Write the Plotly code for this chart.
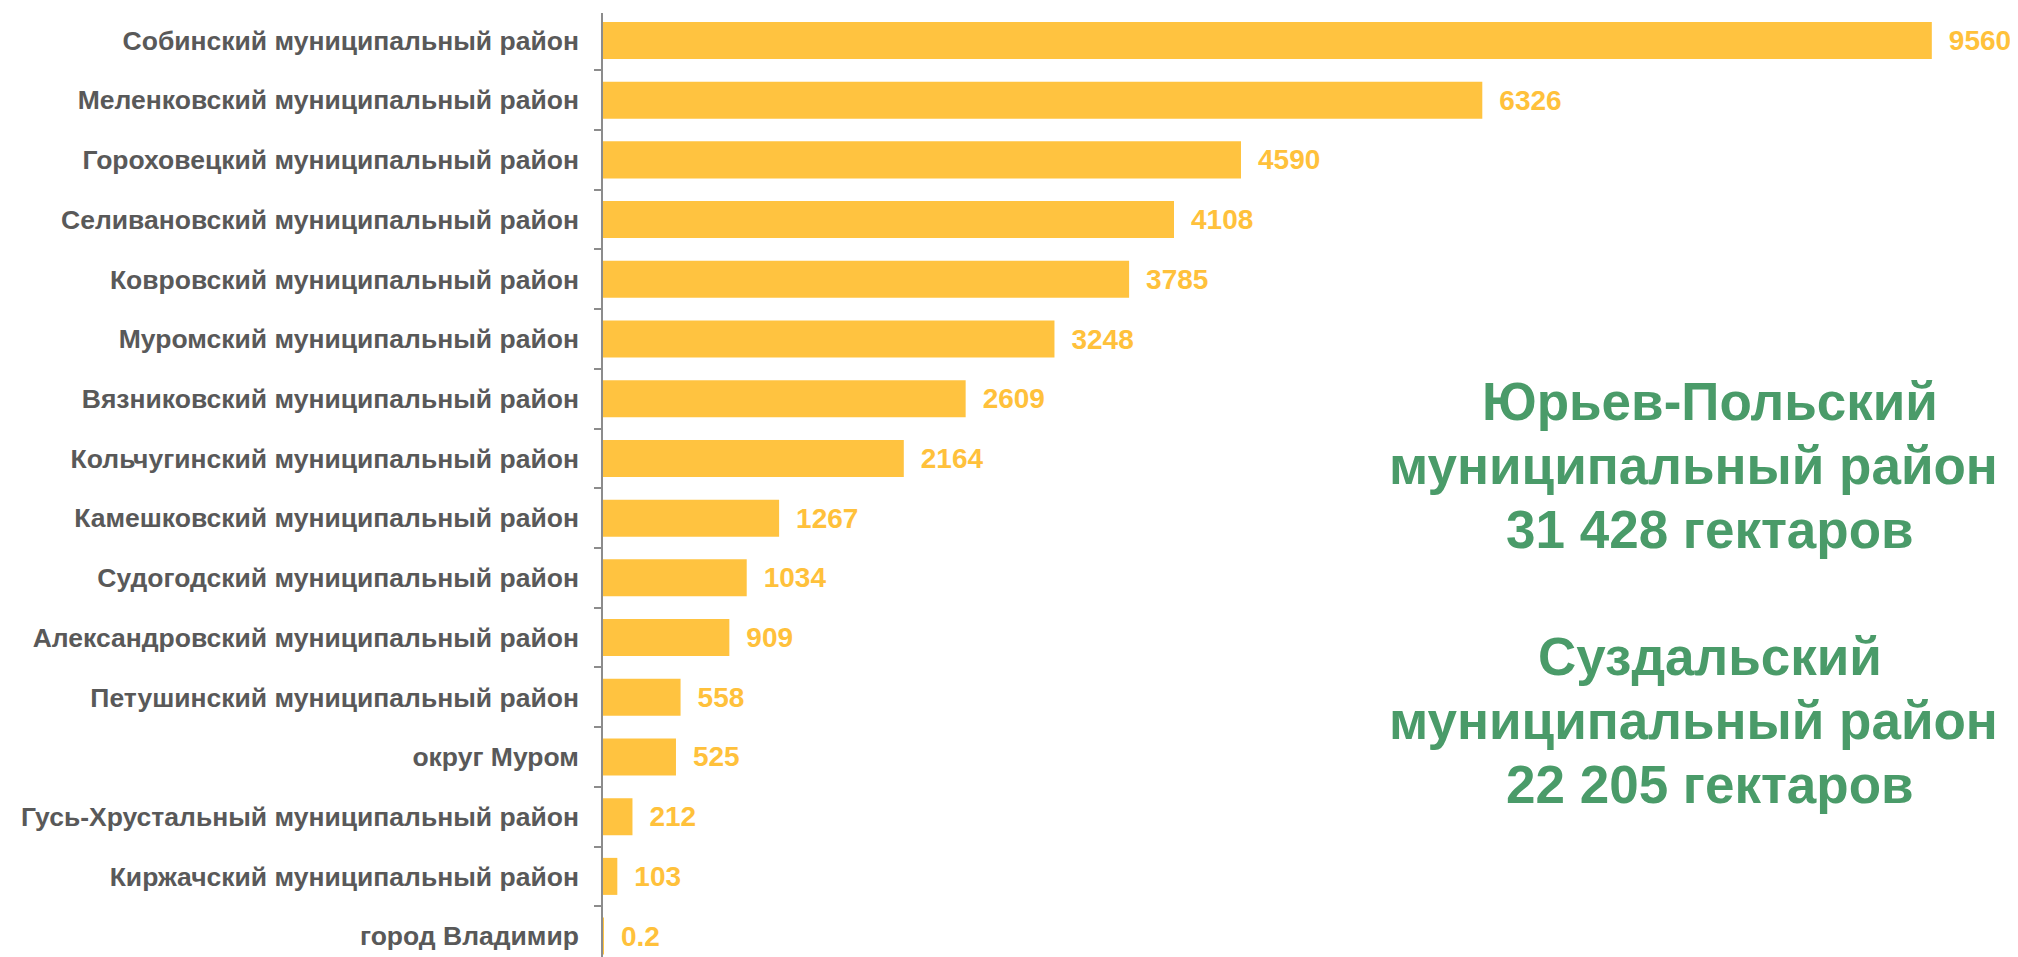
import plotly.graph_objects as go

categories = [
    "Собинский муниципальный район",
    "Меленковский муниципальный район",
    "Гороховецкий муниципальный район",
    "Селивановский муниципальный район",
    "Ковровский муниципальный район",
    "Муромский муниципальный район",
    "Вязниковский муниципальный район",
    "Кольчугинский муниципальный район",
    "Камешковский муниципальный район",
    "Судогодский муниципальный район",
    "Александровский муниципальный район",
    "Петушинский муниципальный район",
    "округ Муром",
    "Гусь-Хрустальный муниципальный район",
    "Киржачский муниципальный район",
    "город Владимир",
]
values = [9560, 6326, 4590, 4108, 3785, 3248, 2609, 2164, 1267, 1034, 909, 558, 525, 212, 103, 0.2]
value_labels = ["9560", "6326", "4590", "4108", "3785", "3248", "2609", "2164", "1267",
                "1034", "909", "558", "525", "212", "103", "0.2"]

note_lines = [
    "Юрьев-Польский",
    "муниципальный район -",
    "31 428 гектаров",
    "",
    "Суздальский",
    "муниципальный район -",
    "22 205 гектаров",
]

FONT = "Liberation Sans, Arial, sans-serif"
BAR = "#FFC340"
GREEN = "#4A9B69"

# page has an 8px body margin; figure sized to fit the window
W, H = 2010, 949
L, T = 595, 5
PLOT_H = H - T

fig = go.Figure()
fig.add_trace(go.Bar(
    x=values,
    y=categories,
    orientation="h",
    marker=dict(color=BAR, line=dict(width=0)),
    text=value_labels,
    texttemplate="\u2002%{text}",
    textposition="outside",
    constraintext="none",
    cliponaxis=False,
    textfont=dict(family=FONT, size=28, color="#FFC13B", weight="bold"),
    hoverinfo="skip",
))

annotations = []
first_line_px = 401.5 - 8 - T  # within plot area
line_step = 63.75
for i, line in enumerate(note_lines):
    if not line:
        continue
    y_px = first_line_px + i * line_step
    annotations.append(dict(
        text=line,
        xref="paper", yref="paper",
        x=0.782, y=1 - y_px / PLOT_H,
        xanchor="center", yanchor="middle",
        align="center",
        showarrow=False,
        font=dict(family=FONT, size=53, color=GREEN, weight="bold"),
    ))

fig.update_layout(
    width=W,
    height=H,
    margin=dict(l=L, r=0, t=T, b=0, autoexpand=False),
    paper_bgcolor="white",
    plot_bgcolor="white",
    showlegend=False,
    bargap=0.38,
    font=dict(family=FONT),
    xaxis=dict(range=[0, 10180], showgrid=False, zeroline=False, showline=False,
               showticklabels=False, ticks=""),
    yaxis=dict(
        type="category",
        range=[15.35, -0.46],
        showgrid=False,
        zeroline=False,
        showline=True,
        linecolor="#8C8C8C",
        linewidth=1.5,
        ticks="outside",
        tickson="boundaries",
        ticklen=7,
        tickcolor="#8C8C8C",
        tickwidth=1.5,
        ticklabelstandoff=17,
        tickfont=dict(family=FONT, size=26.5, color="#595959", weight="bold"),
        automargin=False,
    ),
    annotations=annotations,
)

fig.write_html("out.html")
